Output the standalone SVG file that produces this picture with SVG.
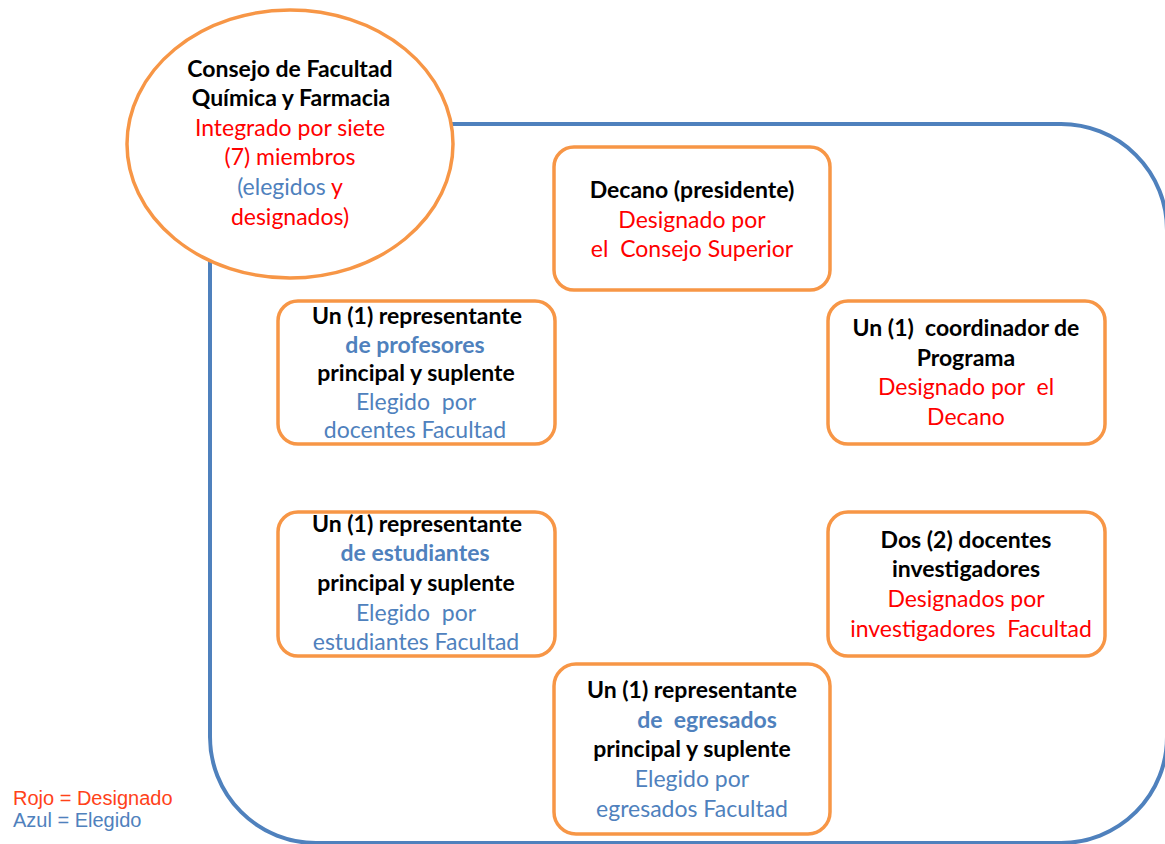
<svg xmlns="http://www.w3.org/2000/svg" width="1165" height="844" viewBox="0 0 1165 844">
<style>
text{font-family:Lato,"Noto Sans",sans-serif;font-size:23px;text-anchor:middle;white-space:pre}
.b{font-weight:bold;fill:#000}
.r{fill:#FF0000}
.bl{fill:#4F81BD}
.bb{font-weight:bold;fill:#4F81BD}
.box{fill:#fff;stroke:#F79646;stroke-width:3.5}
.leg{font-family:"Liberation Sans",Arial,sans-serif;font-size:20px;text-anchor:start}
</style>
<rect width="1165" height="844" fill="#fff"/>
<g id="connectors">
<rect x="210" y="124" width="957" height="719" rx="106" ry="106" fill="none" stroke="#4F81BD" stroke-width="4"/>
</g>
<g id="consejo">
<ellipse cx="290" cy="144" rx="163" ry="134" class="box"/>
<text x="290" y="77" class="b">Consejo de Facultad</text>
<text x="291" y="106" class="b">Química y Farmacia</text>
<text x="290" y="136" class="r">Integrado por siete</text>
<text x="290" y="165" class="r">(7) miembros</text>
<text x="290" y="195"><tspan class="bl">(elegidos</tspan><tspan class="r"> y</tspan></text>
<text x="290" y="225" class="r">designados)</text>
</g>
<g id="decano">
<rect x="554" y="147" width="276" height="143" rx="20" class="box"/>
<text x="692" y="198" class="b">Decano (presidente)</text>
<text x="692" y="228" class="r">Designado por</text>
<text x="692" y="257" class="r">el  Consejo Superior</text>
</g>
<g id="profesores">
<rect x="278" y="301" width="277" height="143" rx="20" class="box"/>
<text x="417" y="324" class="b">Un (1) representante</text>
<text x="415" y="353" class="bb">de profesores</text>
<text x="416" y="381" class="b">principal y suplente</text>
<text x="416" y="410" class="bl">Elegido  por</text>
<text x="415" y="438" class="bl">docentes Facultad</text>
</g>
<g id="coordinador">
<rect x="828" y="301" width="277" height="143" rx="20" class="box"/>
<text x="966" y="336" class="b">Un (1)  coordinador de</text>
<text x="966" y="366" class="b">Programa</text>
<text x="966" y="395" class="r">Designado por  el</text>
<text x="966" y="425" class="r">Decano</text>
</g>
<g id="estudiantes">
<rect x="278" y="512" width="277" height="144" rx="20" class="box"/>
<text x="417" y="532" class="b">Un (1) representante</text>
<text x="415" y="561" class="bb">de estudiantes</text>
<text x="416" y="591" class="b">principal y suplente</text>
<text x="416" y="621" class="bl">Elegido  por</text>
<text x="416" y="650" class="bl">estudiantes Facultad</text>
</g>
<g id="investigadores">
<rect x="828" y="512" width="277" height="144" rx="20" class="box"/>
<text x="966" y="548" class="b">Dos (2) docentes</text>
<text x="966" y="577" class="b">investigadores</text>
<text x="966" y="607" class="r">Designados por</text>
<text x="971" y="637" class="r">investigadores  Facultad</text>
</g>
<g id="egresados">
<rect x="554" y="664" width="276" height="170" rx="22" class="box"/>
<text x="692" y="698" class="b">Un (1) representante</text>
<text x="707" y="728" class="bb">de  egresados</text>
<text x="692" y="757" class="b">principal y suplente</text>
<text x="692" y="787" class="bl">Elegido por</text>
<text x="692" y="817" class="bl">egresados Facultad</text>
</g>
<g id="legend">
<text x="13" y="805" class="leg" fill="#FF4219">Rojo = Designado</text>
<text x="13" y="827" class="leg" fill="#4F81BD">Azul = Elegido</text>
</g>
</svg>
